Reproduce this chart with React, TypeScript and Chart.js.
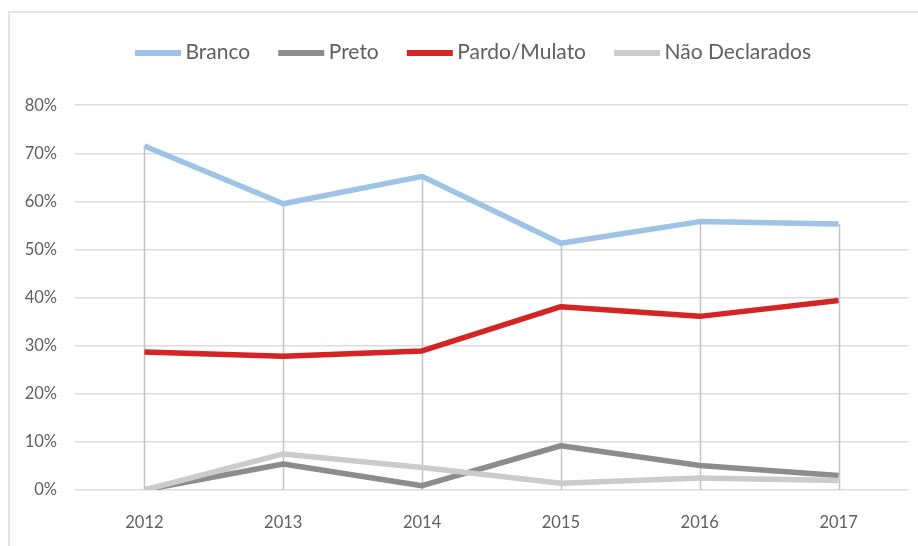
import React, { useEffect, useRef } from "react";
import { Chart, registerables } from "chart.js";

Chart.register(...registerables);

const years = ["2012", "2013", "2014", "2015", "2016", "2017"];
const branco = [71.5, 59.5, 65.2, 51.3, 55.8, 55.3];
const preto = [0, 5.4, 0.9, 9.2, 5.1, 3.0];
const pardo = [28.7, 27.8, 28.9, 38.1, 36.1, 39.4];
const naoDeclarados = [0, 7.5, 4.7, 1.4, 2.5, 2.0];
const seriesNames = ["Branco", "Preto", "Pardo/Mulato", "Não Declarados"];
const seriesColors = ["#9dc3e6", "#8c8c8c", "#d42424", "#cbcbcb"];
const yMin = 0;
const yMax = 80;
const yStep = 10;

const FONT = "Lato, 'Open Sans', sans-serif";
const TEXT = "#606060";

function makeLegendLine(color: string): HTMLCanvasElement {
  const c = document.createElement("canvas");
  c.width = 92;
  c.height = 6;
  const ctx = c.getContext("2d")!;
  ctx.fillStyle = color;
  ctx.fillRect(26, 0, 46, 6);
  return c;
}

const dropLines = {
  id: "dropLines",
  beforeDatasetsDraw(chart: any) {
    const { ctx, scales } = chart;
    const x = scales.x;
    const y = scales.y;
    const n = chart.data.labels.length;
    ctx.save();
    ctx.strokeStyle = "#c4c4c4";
    ctx.lineWidth = 1.5;
    for (let i = 0; i < n; i++) {
      let max = -Infinity;
      chart.data.datasets.forEach((ds: any) => {
        if (ds.data[i] > max) max = ds.data[i];
      });
      const px = Math.round(x.getPixelForValue(i)) + 0.5;
      ctx.beginPath();
      ctx.moveTo(px, y.getPixelForValue(max));
      ctx.lineTo(px, y.getPixelForValue(0));
      ctx.stroke();
    }
    ctx.restore();
  },
};

const shiftLegend = {
  id: "shiftLegend",
  afterLayout(chart: any) {
    const lg = chart.legend;
    if (lg) {
      lg.left += 19;
      lg.right += 19;
    }
  },
};

export default function App() {
  const ref = useRef<HTMLCanvasElement | null>(null);

  useEffect(() => {
    if (!ref.current) return;
    const allData = [branco, preto, pardo, naoDeclarados];
    const legendImgs = seriesColors.map(makeLegendLine);
    const chart = new Chart(ref.current, {
      type: "line",
      data: {
        labels: years,
        datasets: allData.map((d, i) => ({
          label: seriesNames[i],
          data: d,
          borderColor: seriesColors[i],
          backgroundColor: seriesColors[i],
          borderWidth: 5.5,
          pointRadius: 0,
          pointHoverRadius: 0,
          borderJoinStyle: "round" as const,
          tension: 0,
          fill: false,
          order: 4 - i,
        })),
      },
      options: {
        animation: false,
        responsive: false,
        maintainAspectRatio: false,
        layout: { padding: { left: 0, right: 10, top: 14, bottom: 0 } },
        plugins: {
          tooltip: { enabled: false },
          title: {
            display: true,
            text: "",
            weight: 500,
            font: { size: 1 },
            padding: { top: 0, bottom: 31 },
          } as any,
          legend: {
            position: "top",
            align: "center",
            labels: {
              usePointStyle: true,
              pointStyleWidth: 40,
              padding: 28,
              color: TEXT,
              font: { family: FONT, size: 21 },
              generateLabels: (chart: any) =>
                chart.data.datasets.map((ds: any, i: number) => ({
                  text: ds.label,
                  fillStyle: seriesColors[i],
                  strokeStyle: seriesColors[i],
                  lineWidth: 0,
                  pointStyle: legendImgs[i],
                  hidden: false,
                  datasetIndex: i,
                  fontColor: TEXT,
                })),
            },
          },
        },
        scales: {
          x: {
            offset: true,
            grid: { display: false },
            border: { display: false },
            ticks: { color: TEXT, font: { family: FONT, size: 16.5 }, padding: 15 },
            afterFit: (s: any) => {
              s.height = 56;
            },
          },
          y: {
            min: yMin,
            max: yMax,
            grid: { color: "#dcdcdc", lineWidth: 1.5, drawTicks: false },
            border: { display: false },
            ticks: {
              stepSize: yStep,
              color: TEXT,
              padding: 18,
              font: { family: FONT, size: 16.5 },
              callback: (v: any) => v + "%",
            },
            afterFit: (s: any) => {
              s.width = 75;
            },
          },
        },
      },
      plugins: [dropLines, shiftLegend],
    });
    return () => chart.destroy();
  }, []);

  return (
    <div style={{ position: "fixed", left: 0, top: 0, width: 918, height: 546, background: "#fff", overflow: "hidden" }}>
      <div
        style={{
          position: "absolute",
          left: 8,
          top: 11,
          width: 950,
          height: 600,
          borderLeft: "2px solid #e4e4e4",
          borderTop: "2px solid #e4e4e4",
        }}
      />
      <canvas ref={ref} width={918} height={546} style={{ position: "absolute", left: 0, top: 0 }} />
    </div>
  );
}
